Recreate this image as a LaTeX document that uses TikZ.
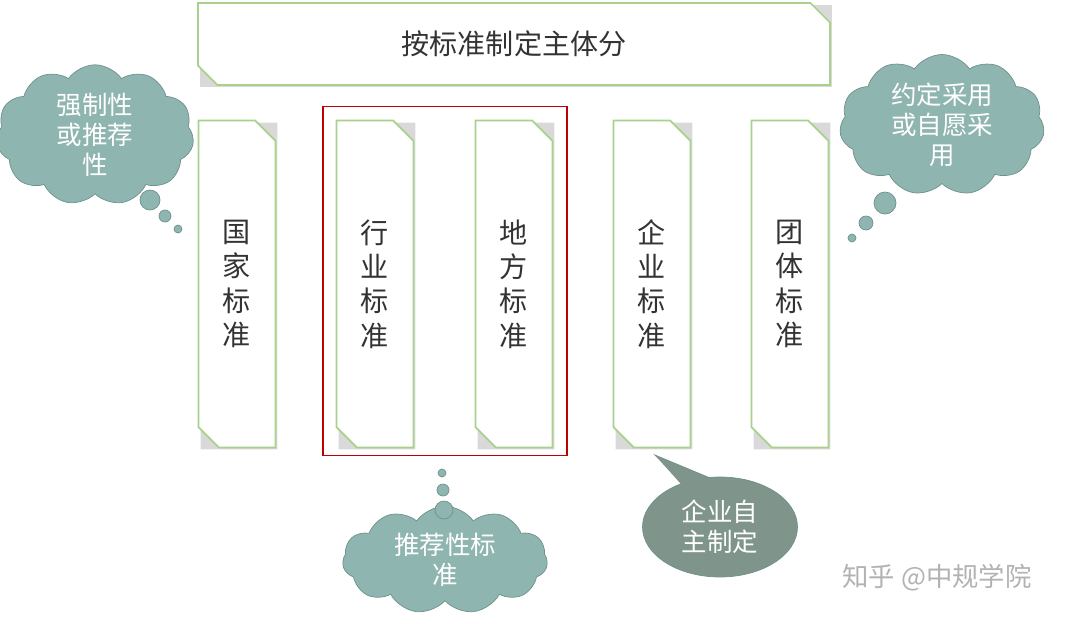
\documentclass[tikz,border=0pt]{standalone}
\usepackage{fontspec}
\setmainfont{Noto Sans CJK SC}
\usetikzlibrary{shapes.misc,shapes.symbols,shapes.geometric}
\definecolor{boxline}{HTML}{A9D18E}
\definecolor{cloudfill}{HTML}{8FB5B0}
\definecolor{cloudline}{HTML}{6F918C}
\definecolor{callfill}{HTML}{7F958C}
\definecolor{txt}{HTML}{333333}
\tikzset{
  snip/.style={chamfered rectangle,chamfered rectangle corners={north east,south west},
    chamfered rectangle xsep=8pt,draw=boxline,line width=1pt,fill=white,
    minimum width=#1,inner sep=0pt,text=txt},
  col/.style={snip=1.54cm,minimum height=6.54cm,font=\fontsize{16}{19.5}\selectfont,align=center},
  shade/.style={chamfered rectangle,chamfered rectangle corners={north east,south west},
    chamfered rectangle xsep=8pt,fill=black!15,draw=none,inner sep=0pt},
  thought/.style={cloud,cloud puffs=11,cloud puff arc=110,aspect=1.6,fill=cloudfill,draw=cloudline,
    text=white,font=\fontsize{14.5}{17}\selectfont,align=center,inner sep=0pt},
  dot/.style={circle,fill=cloudfill,draw=cloudline,inner sep=0pt,minimum size=#1}
}
\begin{document}
\begin{tikzpicture}[x=0.02cm,y=-0.02cm]
\useasboundingbox (0,0) rectangle (1080,623);
% top box
\node[shade,minimum width=12.64cm,minimum height=1.64cm] at (516,46) {};
\node[snip=12.64cm,minimum height=1.64cm,font=\fontsize{16}{20}\selectfont] (top) at (514,44) {按标准制定主体分};
% columns
\foreach \name/\x/\lbl in {gj/237/{国\\家\\标\\准},hy/375/{行\\业\\标\\准},df/514/{地\\方\\标\\准},qy/652/{企\\业\\标\\准},tt/790/{团\\体\\标\\准}}{
  \node[shade,minimum width=1.54cm,minimum height=6.54cm] at (\x+2,286) {};
  \node[col] (\name) at (\x,284) {\lbl};
}
\node[draw=red!75!black,line width=0.8pt,minimum width=4.88cm,minimum height=6.98cm] (grp) at (445,281) {};
% thought clouds
\node[thought,minimum width=3.6cm,minimum height=2.2cm] (c1) at (95,135) {强制性\\或推荐\\性};
\node[dot=20*0.02cm] (c1a) at (150,200) {};
\node[dot=12*0.02cm] (c1b) at (165,216) {};
\node[dot=8*0.02cm] (c1c) at (178,229) {};
\node[thought,minimum width=4.1cm,minimum height=2.4cm] (c2) at (942,125) {约定采用\\或自愿采\\用};
\node[dot=22*0.02cm] (c2a) at (885,203) {};
\node[dot=14*0.02cm] (c2b) at (866,223) {};
\node[dot=8*0.02cm] (c2c) at (852,238) {};
\node[thought,minimum width=4.1cm,minimum height=1.6cm] (c3) at (445,560) {推荐性标\\准};
\node[dot=18*0.02cm] (c3a) at (444,510) {};
\node[dot=12*0.02cm] (c3b) at (443,490) {};
\node[dot=8*0.02cm] (c3c) at (442,473) {};
% callout
\coordinate (tip) at (655,455);
\fill[callfill,draw=cloudline] (tip) -- (690,490) -- (715,480) -- cycle;
\node[ellipse,minimum width=3.1cm,minimum height=2cm,fill=callfill,draw=cloudline,text=white,
  font=\fontsize{14.5}{17}\selectfont,align=center,inner sep=0pt] (qyzz) at (720,527) {企业自\\主制定};
\fill[callfill] (tip) -- (688,492) -- (712,484) -- cycle;
\node[text=black!30,font=\fontsize{15}{18}\selectfont] (wm) at (937,578) {知乎 @中规学院};
\end{tikzpicture}
\end{document}
